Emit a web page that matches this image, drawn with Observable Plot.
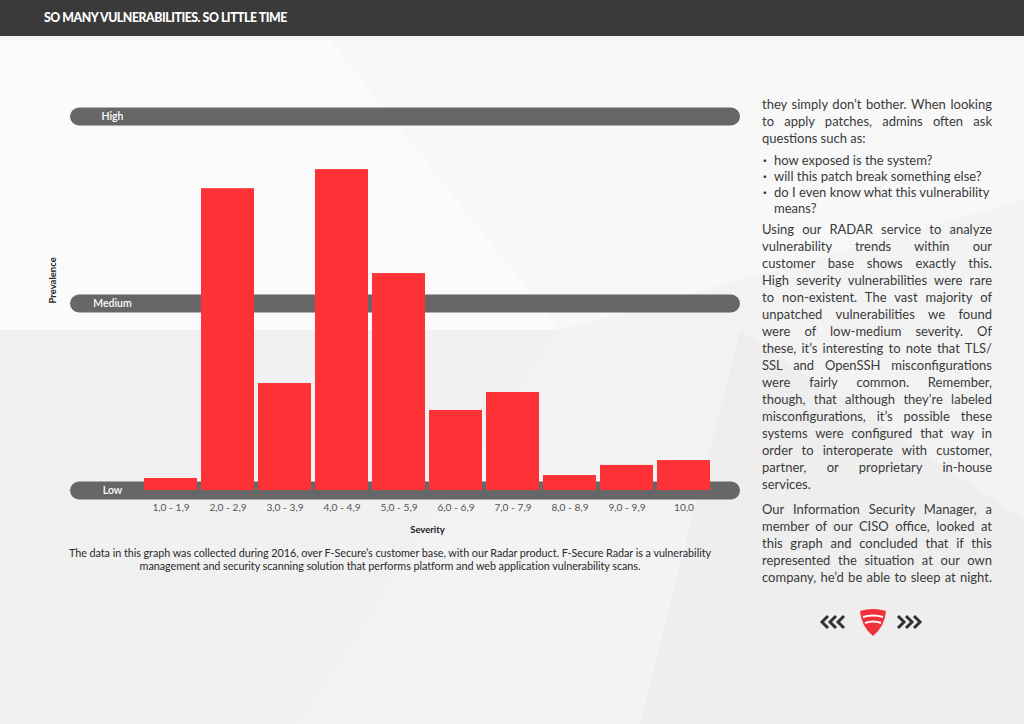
<!DOCTYPE html>
<html>
<head>
<meta charset="utf-8">
<script src="https://cdn.jsdelivr.net/npm/d3@7"></script>
<script src="https://cdn.jsdelivr.net/npm/@observablehq/plot@0.6"></script>
<style>
  html, body { margin:0; padding:0; }
  body { width:1024px; height:724px; position:relative; overflow:hidden; background:#f4f4f4; font-family: Lato, "Open Sans", sans-serif; }
  #bg { position:absolute; left:0; top:0; }
  #header { position:absolute; left:0; top:0; width:1024px; height:36px; background:#3a3a3a; }
  #header span { position:absolute; left:44px; top:9px; color:#fff; font-weight:900; font-size:12.3px; letter-spacing:-0.45px; line-height:17px; }
  #chart { position:absolute; left:0; top:90px; }
  #caption { position:absolute; left:40px; top:546px; width:700px; text-align:center; font-size:10.8px; line-height:13px; color:#2a2a2a; letter-spacing:-0.05px; }
  #text { position:absolute; left:762px; top:96px; width:230px; font-size:13px; color:#3a3a3a; }
  #text .l { height:17px; line-height:17px; white-space:nowrap; text-align:justify; text-align-last:justify; }
  #text .e { text-align-last:left; }
  #text .b { position:relative; padding-left:12px; height:16px; line-height:16px; white-space:nowrap; }
  #text .b.d::before { content:"·"; position:absolute; left:1px; font-weight:900; }
  #text .gap { height:5px; }
  #nav { position:absolute; left:818px; top:606px; }
</style>
</head>
<body>
<svg id="bg" width="1024" height="724">
  <polygon points="0,40 330,40 560,330 0,330" fill="#fbfbfb"/>
  <polygon points="0,330 560,330 300,724 0,724" fill="#f1f1f1"/>
  <polygon points="560,330 1024,200 1024,724 300,724" fill="#f3f3f3"/>
  <polygon points="330,40 1024,40 1024,200 560,330" fill="#f8f8f8"/>
  <polygon points="740,330 1024,520 1024,724 640,724" fill="#eeeeee"/>
</svg>
<div id="header"><span>SO MANY VULNERABILITIES. SO LITTLE TIME</span></div>
<div id="chart"></div>
<div id="caption">The data in this graph was collected during 2016, over F-Secure’s customer base, with our Radar product. F-Secure Radar is a vulnerability<br>management and security scanning solution that performs platform and web application vulnerability scans.</div>
<div id="text">
  <div class="l">they simply don’t bother. When looking</div>
  <div class="l">to apply patches, admins often ask</div>
  <div class="l e">questions such as:</div>
  <div class="gap"></div>
  <div class="b d">how exposed is the system?</div>
  <div class="b d">will this patch break something else?</div>
  <div class="b d">do I even know what this vulnerability</div>
  <div class="b">means?</div>
  <div class="gap"></div>
  <div class="l">Using our RADAR service to analyze</div>
  <div class="l">vulnerability trends within our</div>
  <div class="l">customer base shows exactly this.</div>
  <div class="l">High severity vulnerabilities were rare</div>
  <div class="l">to non-existent. The vast majority of</div>
  <div class="l">unpatched vulnerabilities we found</div>
  <div class="l">were of low-medium severity. Of</div>
  <div class="l">these, it’s interesting to note that TLS/</div>
  <div class="l">SSL and OpenSSH misconfigurations</div>
  <div class="l">were fairly common. Remember,</div>
  <div class="l">though, that although they’re labeled</div>
  <div class="l">misconfigurations, it’s possible these</div>
  <div class="l">systems were configured that way in</div>
  <div class="l">order to interoperate with customer,</div>
  <div class="l">partner, or proprietary in-house</div>
  <div class="l e">services.</div>
  <div class="gap" style="height:8px"></div>
  <div class="l">Our Information Security Manager, a</div>
  <div class="l">member of our CISO office, looked at</div>
  <div class="l">this graph and concluded that if this</div>
  <div class="l">represented the situation at our own</div>
  <div class="l">company, he’d be able to sleep at night.</div>
</div>
<svg id="nav" width="110" height="34">
  <g fill="none" stroke="#333" stroke-width="3">
    <polyline points="10,10 4,16 10,22"/>
    <polyline points="18,10 12,16 18,22"/>
    <polyline points="26,10 20,16 26,22"/>
    <polyline points="80,10 86,16 80,22"/>
    <polyline points="88,10 94,16 88,22"/>
    <polyline points="96,10 102,16 96,22"/>
  </g>
  <path d="M42,5 Q55,1 68,5 Q67,20 55,30 Q43,20 42,5 Z" fill="#f0303a"/>
  <path d="M45,11 Q55,8 65,11" stroke="#fff" stroke-width="2.2" fill="none"/>
  <path d="M47,17 Q56,14 63,17" stroke="#fff" stroke-width="2.2" fill="none"/>
</svg>
<script>
const severity = ["1,0 - 1,9", "2,0 - 2,9", "3,0 - 3,9", "4,0 - 4,9", "5,0 - 5,9", "6,0 - 6,9", "7,0 - 7,9", "8,0 - 8,9", "9,0 - 9,9", "10,0"];
const prevalence = [3.2, 80.7, 28.6, 85.8, 58, 21.4, 26.2, 4, 6.7, 8];
const levels = ["Low", "Medium", "High"];
const levelValues = [0, 50, 100];

const data = severity.map((s, i) => ({severity: s, prevalence: prevalence[i]}));

const chart = Plot.plot({
  width: 760,
  height: 460,
  marginLeft: 79,
  marginRight: 29,
  marginTop: 20,
  marginBottom: 55,
  style: {fontFamily: "Lato, 'Open Sans', sans-serif", background: "transparent", overflow: "visible"},
  x: {type: "band", domain: severity, range: [139.7, 713.9], paddingInner: 0.077, paddingOuter: 0.04, axis: null},
  y: {domain: [0, 100], range: [400, 26], axis: null},
  marks: [
    Plot.ruleY(levelValues, {stroke: "#676767", strokeWidth: 18, strokeLinecap: "round"}),
    Plot.text(levels, {y: levelValues, frameAnchor: "left", textAnchor: "middle", dx: 33, fill: "#fff", fontSize: 10.5, fontWeight: 600}),
    Plot.barY(data, {x: "severity", y: "prevalence", fill: "#fe3136"}),
    Plot.axisX({tickSize: 0, tickPadding: 8, fontSize: 10.2, fill: "#555", label: null}),
    Plot.text(["Severity"], {frameAnchor: "bottom", dx: 22, dy: 37, fontSize: 9.5, fontWeight: 700, fill: "#222"}),
    Plot.text(["Prevalence"], {y: [50], frameAnchor: "left", dx: -27, rotate: -90, fontSize: 9.5, fontWeight: 700, fill: "#222"})
  ]
});
document.getElementById("chart").appendChild(chart);
</script>
</body>
</html>
